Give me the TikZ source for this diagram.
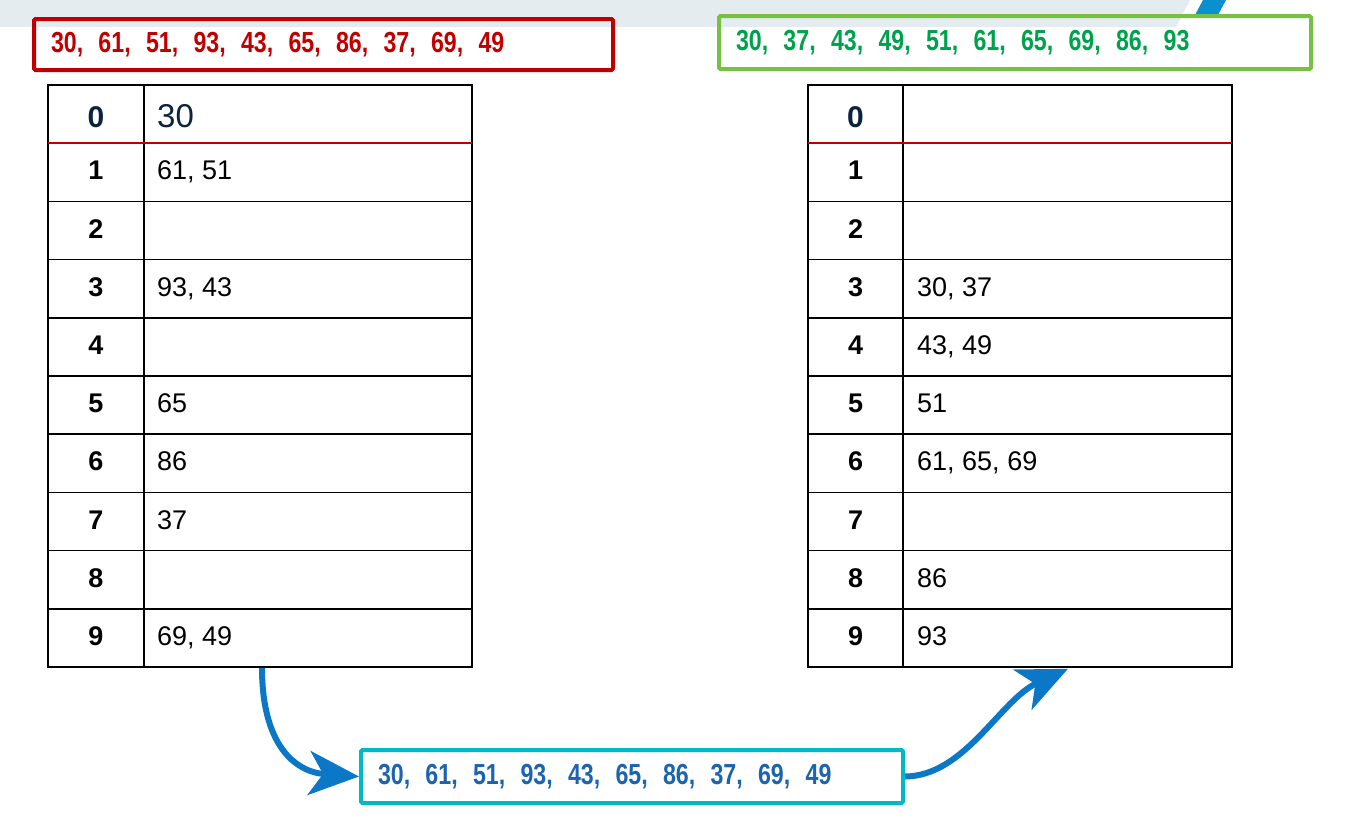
\documentclass[tikz,border=0pt]{standalone}
\usepackage{fontspec}
\setmainfont{Liberation Sans}
\newfontfamily\listfont[FakeStretch=0.8]{Liberation Sans}
\usetikzlibrary{arrows.meta}
\newcommand\listgap{\hspace{5.6pt}}

\definecolor{list-red}{HTML}{C00000}
\definecolor{list-green}{HTML}{00A14B}
\definecolor{list-lime}{HTML}{76C043}
\definecolor{list-cyan}{HTML}{00B8C8}
\definecolor{list-blue}{HTML}{1A64B0}
\definecolor{flow-blue}{HTML}{0A78C6}
\definecolor{head-navy}{HTML}{0C2340}
\definecolor{band-grey}{HTML}{E5ECF0}
\definecolor{band-blue}{HTML}{0A8FD0}

\tikzstyle{list-box}=[draw, line width=4pt, rounded corners=1.5pt, minimum height=51pt, inner xsep=17pt, align=left, font=\listfont\bfseries\fontsize{29}{29}\selectfont]
\tikzstyle{table-box}=[draw, line width=1.6pt, minimum width=424pt, minimum height=582pt, inner sep=0pt]
\tikzstyle{row-line}=[line width=1.6pt]
\tikzstyle{index-cell}=[inner sep=0pt, anchor=base, font=\bfseries\fontsize{27}{27}\selectfont]
\tikzstyle{value-cell}=[inner sep=0pt, anchor=base west, font=\fontsize{27}{27}\selectfont]
\tikzstyle{flow-arrow}=[draw=flow-blue, line width=6pt, -{Stealth[length=50pt,width=44pt,inset=14pt]}]

\begin{document}
\begin{tikzpicture}[x=1pt, y=-1pt]
      \useasboundingbox (0,0) rectangle (1345,823);
      \fill[band-grey] (0,0) -- (1190,0) -- (1176,27) -- (0,27) -- cycle;
      \fill[band-blue] (1203,0) -- (1226,0) -- (1218,15) -- (1195,15) -- cycle;

      \node (unsorted) at (323.5, 44.5)
            [list-box, draw=list-red, text=list-red, text width=545pt] {30, \listgap61, \listgap51, \listgap93, \listgap43, \listgap65, \listgap86, \listgap37, \listgap69, \listgap49};
      \node (sorted) at (1015, 42.5)
            [list-box, draw=list-lime, text=list-green, text width=558pt, minimum height=53pt] {30, \listgap37, \listgap43, \listgap49, \listgap51, \listgap61, \listgap65, \listgap69, \listgap86, \listgap93};
      \node (collected) at (632, 776.5)
            [list-box, draw=list-cyan, text=list-blue, text width=508pt, minimum height=53pt] {30, \listgap61, \listgap51, \listgap93, \listgap43, \listgap65, \listgap86, \listgap37, \listgap69, \listgap49};

      \node (lefttable) at (260, 376) [table-box] {};
      \node (righttable) at (1020, 376) [table-box] {};
      \draw[row-line] (144,85) -- (144,667);
      \draw[row-line] (903,85) -- (903,667);
      \foreach \row in {2,...,9} {
            \draw[row-line] (48,{85+58.2*\row}) -- (472,{85+58.2*\row});
            \draw[row-line] (808,{85+58.2*\row}) -- (1232,{85+58.2*\row});
      }
      \draw[line width=1.6pt, draw=list-red] (48,143.2) -- (472,143.2);
      \draw[line width=1.6pt, draw=list-red] (808,143.2) -- (1232,143.2);

      \node (lindex0) at (96, 127)
            [index-cell, text=head-navy, font=\bfseries\fontsize{30}{30}\selectfont] {0};
      \node (lvalue0) at (157, 127)
            [value-cell, text=head-navy, font=\fontsize{33}{33}\selectfont] {30};
      \node (rindex0) at (855.5, 127)
            [index-cell, text=head-navy, font=\bfseries\fontsize{30}{30}\selectfont] {0};
      \foreach \row in {1,...,9} {
            \node (lindex\row) at (96, {121.6+58.2*\row}) [index-cell] {\row};
            \node (rindex\row) at (855.5, {121.6+58.2*\row}) [index-cell] {\row};
      }
      \foreach \row/\val in {1/{61, 51}, 3/{93, 43}, 5/{65}, 6/{86}, 7/{37}, 9/{69, 49}}
            \node (lvalue\row) at (157, {121.6+58.2*\row}) [value-cell] {\val};
      \foreach \row/\val in {3/{30, 37}, 4/{43, 49}, 5/{51}, 6/{61, 65, 69}, 8/{86}, 9/{93}}
            \node (rvalue\row) at (917, {121.6+58.2*\row}) [value-cell] {\val};

      \coordinate (leftout) at ([xshift=2pt]lefttable.south);
      \coordinate (rightin) at ([xshift=48pt, yshift=-1pt]righttable.south);
      \draw[flow-arrow] (leftout) .. controls (262,745) and (295,772) .. (collected.west);
      \draw[flow-arrow] (collected.east) .. controls (965,776) and (1000,700) .. (rightin);
\end{tikzpicture}
\end{document}
